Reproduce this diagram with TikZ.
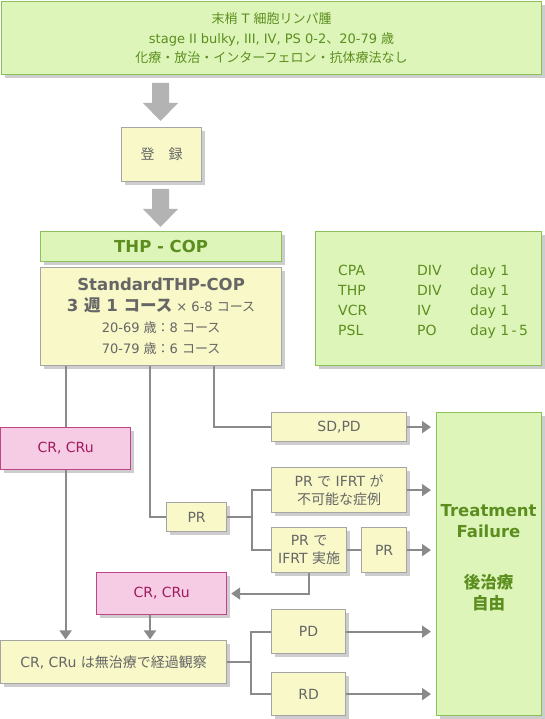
\documentclass[tikz,border=0pt]{standalone}
\usepackage{fontspec}
\setmainfont{DejaVu Sans}
\newfontfamily\jpf{Noto Sans CJK JP}
\newcommand\jp[1]{{\jpf #1}}
\usetikzlibrary{shadows,arrows.meta,calc}
\definecolor{gfill}{HTML}{DEF5B9}
\definecolor{gline}{HTML}{8CC05A}
\definecolor{gtext}{HTML}{5C8E1F}
\definecolor{yfill}{HTML}{F8F8C8}
\definecolor{yline}{HTML}{A5A5A5}
\definecolor{ttext}{HTML}{666666}
\definecolor{pfill}{HTML}{F5CCE3}
\definecolor{pline}{HTML}{C04487}
\definecolor{ptext}{HTML}{A3195F}
\definecolor{cline}{HTML}{8A8A8A}
\definecolor{barrow}{HTML}{B3B3B3}
\definecolor{shad}{HTML}{CDCDCD}
\tikzset{
 box/.style={draw, line width=1.2pt, inner sep=0pt, align=center, anchor=north west,
   drop shadow={shadow xshift=3pt, shadow yshift=-3pt, fill=shad, opacity=1}},
 gbox/.style={box, fill=gfill, draw=gline, text=gtext},
 ybox/.style={box, fill=yfill, draw=yline, text=ttext},
 pbox/.style={box, fill=pfill, draw=pline, text=ptext},
 conn/.style={draw=cline, line width=2pt},
 arr/.style={conn, -{Triangle[length=9pt,width=12pt]}, shorten >=5pt},
 arrv/.style={conn, -{Triangle[length=9pt,width=12pt]}, shorten >=0.6pt},
 arrc/.style={conn, -{Triangle[length=9pt,width=12pt]}, shorten >=4pt},
 fsa/.style={font=\fontsize{13}{19.5}\selectfont},
 fsb/.style={font=\fontsize{14}{17.5}\selectfont},
 fsbig/.style={font=\bfseries\fontsize{16.5}{21}\selectfont},
}
\begin{document}
\begin{tikzpicture}[x=1pt,y=-1pt]
\useasboundingbox (0,0) rectangle (544,719);

% nodes
\node[gbox, fsa, minimum width=540pt, minimum height=73pt] (top) at (1,1)
  {\jp{末梢} T \jp{細胞リンパ腫}\\
   stage II bulky, III, IV, PS 0-2\jp{、}20-79 \jp{歳}\\
   \jp{化療・放治・インターフェロン・抗体療法なし}};
\node[ybox, fsb, minimum width=80pt, minimum height=54pt] (reg) at (121,127) {\jp{登　録}};
\node[gbox, fsbig, minimum width=241pt, minimum height=30pt] (hdr) at (40,231) {THP - COP};
\node[ybox, font=\fontsize{13}{21}\selectfont, minimum width=241pt, minimum height=98pt] (std) at (40,267)
  {{\fontsize{16.5}{21}\selectfont\bfseries StandardTHP-COP}\\
   {\fontsize{16.5}{21}\selectfont\bfseries 3 \jp{週} 1 \jp{コース}} × 6-8 \jp{コース}\\
   20-69 \jp{歳：}8 \jp{コース}\\
   70-79 \jp{歳：}6 \jp{コース}};
\node[gbox, minimum width=226pt, minimum height=134pt] (drug) at (315,231) {};
\node[anchor=west, inner sep=0pt, text=gtext, font=\fontsize{14}{20}\selectfont] (drugs) at (338,301)
  {\begin{tabular}{@{}p{79pt}@{}p{53pt}@{}l@{}}
   CPA & DIV & day 1\\
   THP & DIV & day 1\\
   VCR & IV  & day 1\\
   PSL & PO  & day 1\,-\,5
   \end{tabular}};
\node[ybox, fsb, minimum width=135pt, minimum height=29pt] (sdpd) at (271,412) {SD,PD};
\node[gbox, minimum width=105pt, minimum height=303pt] (tf) at (436,412) {};
\node[fsbig, text=gtext, align=center, inner sep=0pt] (tft) at (488.5,521) {Treatment\\Failure};
\node[fsbig, text=gtext, align=center, inner sep=0pt] (tfj) at (488.5,592.5) {\jp{後治療}\\\jp{自由}};
\node[pbox, fsb, minimum width=130pt, minimum height=42pt] (cr1) at (0,427) {CR, CRu};
\node[ybox, fsb, minimum width=60pt, minimum height=29pt] (pr) at (166,502) {PR};
\node[ybox, fsb, minimum width=135pt, minimum height=45pt] (prno) at (271,467)
  {PR \jp{で} IFRT \jp{が}\\\jp{不可能な症例}};
\node[ybox, fsb, minimum width=75pt, minimum height=45pt] (prifrt) at (271,527)
  {PR \jp{で}\\IFRT \jp{実施}};
\node[ybox, fsb, minimum width=45pt, minimum height=45pt] (pr2) at (361,527) {PR};
\node[pbox, fsb, minimum width=130pt, minimum height=42pt] (cr2) at (96,572) {CR, CRu};
\node[ybox, fsb, minimum width=226pt, minimum height=43pt] (obs) at (0,640)
  {CR, CRu \jp{は無治療で経過観察}};
\node[ybox, fsb, minimum width=74pt, minimum height=44pt] (pd) at (271,609) {PD};
\node[ybox, fsb, minimum width=74pt, minimum height=43pt] (rd) at (271,672) {RD};

% block arrows
\fill[barrow] (152,83) -- (169,83) -- (169,103) -- (178,103) -- (160.5,121) -- (143,103) -- (152,103) -- cycle;
\fill[barrow] (152,189) -- (169,189) -- (169,209) -- (178,209) -- (160.5,227) -- (143,209) -- (152,209) -- cycle;

% connectors
\coordinate (s2) at ($(std.south west)+(110,0)$);
\coordinate (s3) at ($(std.south west)+(174,0)$);
\coordinate (b1) at ($(pr.east)+(25,0)$);
\coordinate (c2) at ($(cr2.south west)+(54,0)$);
\coordinate (b2) at ($(obs.east)+(24,0)$);

\draw[conn] (cr1.north |- std.south) -- (cr1.north);
\draw[arrv] (cr1.south) -- (cr1.south |- obs.north);
\draw[conn] (s2) |- (pr.west);
\draw[conn] (s3) |- (sdpd.west);
\draw[arr] (sdpd.east) -- (sdpd.east -| tf.west);
\draw[conn] (pr.east) -- (b1) |- (prno.west);
\draw[conn] (b1) |- (prifrt.west);
\draw[arr] (prno.east) -- (prno.east -| tf.west);
\draw[conn] (prifrt.east) -- (pr2.west);
\draw[arr] (pr2.east) -- (pr2.east -| tf.west);
\draw[arrc] (prifrt.south) |- (cr2.east);
\draw[arrv] (c2) -- (c2 |- obs.north);
\draw[conn] (obs.east) -- (b2) |- (pd.west);
\draw[conn] (b2) |- (rd.west);
\draw[arr] (pd.east) -- (pd.east -| tf.west);
\draw[arr] (rd.east) -- (rd.east -| tf.west);
\end{tikzpicture}
\end{document}
